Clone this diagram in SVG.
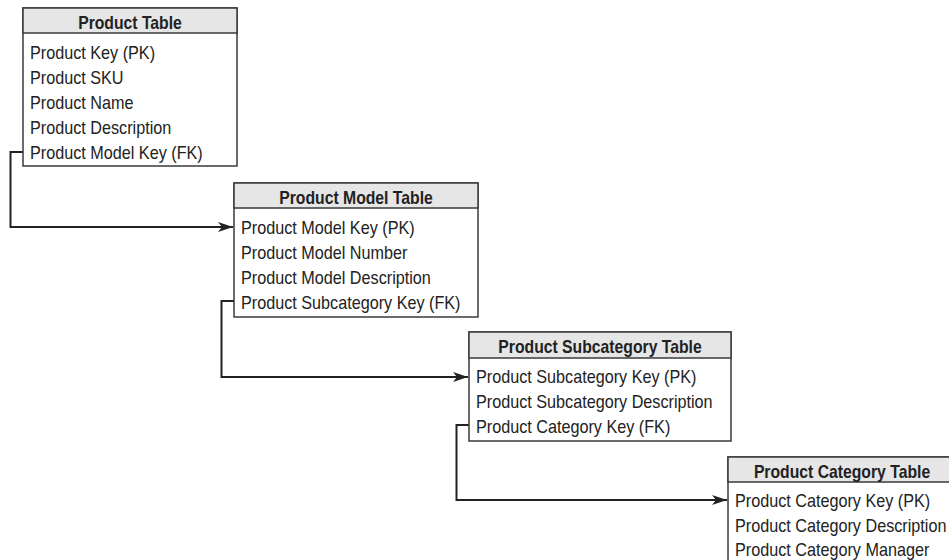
<svg xmlns="http://www.w3.org/2000/svg" width="949" height="560" viewBox="0 0 949 560">
<style>
.box{fill:#fff;stroke:#3a3a3a;stroke-width:1.5}
.hdr{fill:#e6e6e6;stroke:#3a3a3a;stroke-width:1.5}
.t{font-family:"Liberation Sans",Arial,sans-serif;font-size:18px;fill:#222}
.h{font-family:"Liberation Sans",Arial,sans-serif;font-size:17.5px;font-weight:bold;fill:#222;text-anchor:middle}
.c{fill:none;stroke:#222;stroke-width:2}
</style>
<defs>
<marker id="arr" markerUnits="userSpaceOnUse" markerWidth="15" markerHeight="10" viewBox="0 0 15 10" refX="15" refY="5" orient="auto">
<path d="M0,0 L15,5 L0,10 L4,5 Z" fill="#222"/>
</marker>
</defs>
<rect width="949" height="560" fill="#fff"/>
<g id="connectors">
<path class="c" d="M23,152 H10.5 V227 H233" marker-end="url(#arr)"/>
<path class="c" d="M234,301 H221.5 V377 H468" marker-end="url(#arr)"/>
<path class="c" d="M469,425 H456.5 V500 H727" marker-end="url(#arr)"/>
</g>
<g id="product">
<rect class="box" x="23" y="8" width="214" height="158"/>
<rect class="hdr" x="23" y="8" width="214" height="25"/>
<g transform="translate(130,0) scale(0.9,1)"><text class="h" x="0" y="29">Product Table</text></g>
<g transform="translate(30,0) scale(0.9,1)">
<text class="t" x="0" y="59">Product Key (PK)</text>
<text class="t" x="0" y="84">Product SKU</text>
<text class="t" x="0" y="109">Product Name</text>
<text class="t" x="0" y="134">Product Description</text>
<text class="t" x="0" y="159">Product Model Key (FK)</text>
</g>
</g>
<g id="model">
<rect class="box" x="234" y="183" width="244" height="134"/>
<rect class="hdr" x="234" y="183" width="244" height="25"/>
<g transform="translate(356,0) scale(0.9,1)"><text class="h" x="0" y="204">Product Model Table</text></g>
<g transform="translate(241,0) scale(0.9,1)">
<text class="t" x="0" y="234">Product Model Key (PK)</text>
<text class="t" x="0" y="259">Product Model Number</text>
<text class="t" x="0" y="284">Product Model Description</text>
<text class="t" x="0" y="309">Product Subcategory Key (FK)</text>
</g>
</g>
<g id="subcategory">
<rect class="box" x="469" y="332" width="262" height="109"/>
<rect class="hdr" x="469" y="332" width="262" height="26"/>
<g transform="translate(600,0) scale(0.9,1)"><text class="h" x="0" y="353">Product Subcategory Table</text></g>
<g transform="translate(476,0) scale(0.9,1)">
<text class="t" x="0" y="383">Product Subcategory Key (PK)</text>
<text class="t" x="0" y="408">Product Subcategory Description</text>
<text class="t" x="0" y="433">Product Category Key (FK)</text>
</g>
</g>
<g id="category">
<rect class="box" x="728" y="457" width="230" height="110"/>
<rect class="hdr" x="728" y="457" width="230" height="25"/>
<g transform="translate(842,0) scale(0.9,1)"><text class="h" x="0" y="478">Product Category Table</text></g>
<g transform="translate(735,0) scale(0.9,1)">
<text class="t" x="0" y="507">Product Category Key (PK)</text>
<text class="t" x="0" y="532">Product Category Description</text>
<text class="t" x="0" y="556">Product Category Manager</text>
</g>
</g>
</svg>
